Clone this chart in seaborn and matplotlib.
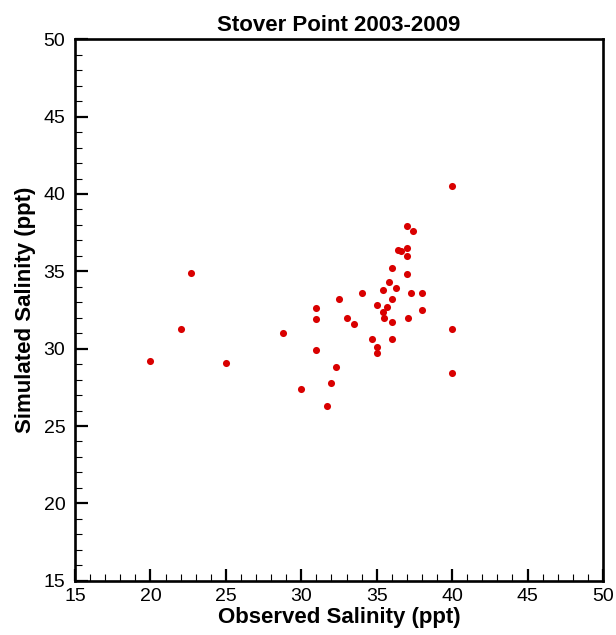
"""Stover Point simulated vs observed salinity scatter."""

import matplotlib
matplotlib.use("Agg")
import matplotlib.pyplot as plt
from matplotlib.ticker import MultipleLocator
import pandas as pd
import seaborn as sns

observed = [20, 22, 22.7, 25, 28.8, 30, 31, 31, 31, 31.7, 32, 32.3, 32.5, 33,
            33.5, 34, 34.7, 35, 35, 35, 35.4, 35.4, 35.5, 35.7, 35.8, 36, 36,
            36, 36, 36.3, 36.4, 36.6, 37, 37, 37, 37, 37.1, 37.3, 37.4, 38,
            38, 40, 40, 40]
simulated = [29.2, 31.3, 34.9, 29.1, 31.0, 27.4, 32.6, 31.9, 29.9, 26.3, 27.8,
             28.8, 33.2, 32.0, 31.6, 33.6, 30.6, 32.8, 30.1, 29.7, 33.8, 32.4,
             32.0, 32.7, 34.3, 35.2, 33.2, 31.7, 30.6, 33.9, 36.4, 36.3, 37.9,
             36.5, 36.0, 34.8, 32.0, 33.6, 37.6, 33.6, 32.5, 40.5, 31.3, 28.4]
ticks = [15, 20, 25, 30, 35, 40, 45, 50]

df = pd.DataFrame({"Observed": observed, "Simulated": simulated})

sns.set_style("ticks")
plt.rcParams["font.family"] = ["Liberation Sans", "DejaVu Sans"]
plt.rcParams.update({
    "xtick.direction": "in", "ytick.direction": "in",
    "text.color": "black", "axes.labelcolor": "black",
    "xtick.color": "black", "ytick.color": "black",
})

fig = plt.figure(figsize=(6.16, 6.35), dpi=100)
ax = fig.add_axes([0.1218, 0.0855, 0.8571, 0.8526])

sns.scatterplot(data=df, x="Observed", y="Simulated", ax=ax,
                color="#d90000", s=26, linewidth=0, zorder=3)

ax.set_xlim(15, 50)
ax.set_ylim(15, 50)
ax.set_xticks(ticks)
ax.set_yticks(ticks)
ax.xaxis.set_minor_locator(MultipleLocator(1))
ax.yaxis.set_minor_locator(MultipleLocator(1))
ax.tick_params(which="major", direction="in", length=9, width=1.6,
               labelsize=14, top=False, right=False)
ax.tick_params(which="minor", direction="in", length=5, width=0.8,
               top=False, right=False)
ax.tick_params(axis="x", which="major", pad=5)
ax.tick_params(axis="y", which="major", pad=7)
for side in ax.spines.values():
    side.set_linewidth(1.9)
    side.set_color("black")

ax.set_xlabel("Observed Salinity (ppt)", fontsize=16, fontweight="bold", labelpad=2)
ax.set_ylabel("Simulated Salinity (ppt)", fontsize=16, fontweight="bold", labelpad=5)
ax.set_title("Stover Point 2003-2009", fontsize=16, fontweight="bold", pad=6)

fig.savefig("out.png", dpi=100)
